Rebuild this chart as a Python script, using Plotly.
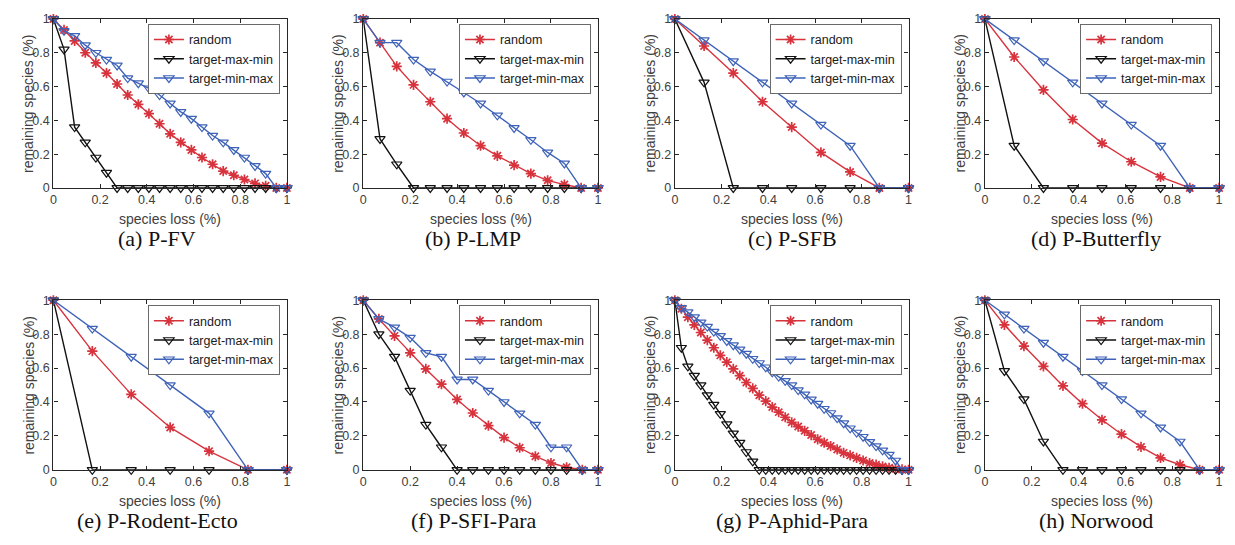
import plotly.graph_objects as go

# ---------------- data ----------------
panel_titles = ["(a) P-FV", "(b) P-LMP", "(c) P-SFB", "(d) P-Butterfly",
                "(e) P-Rodent-Ecto", "(f) P-SFI-Para", "(g) P-Aphid-Para", "(h) Norwood"]
series_names = ["random", "target-max-min", "target-min-max"]

a_random = [1.00, 0.935, 0.87, 0.80, 0.74, 0.68, 0.615, 0.55, 0.495, 0.44, 0.38, 0.32,
            0.27, 0.225, 0.18, 0.14, 0.10, 0.075, 0.05, 0.027, 0.013, 0.0, 0.0]
a_maxmin = [1.00, 0.82, 0.36, 0.27, 0.18, 0.09, 0.0, 0.0, 0.0, 0.0, 0.0, 0.0,
            0.0, 0.0, 0.0, 0.0, 0.0, 0.0, 0.0, 0.0, 0.0, 0.0, 0.0]
a_minmax = [1.00, 0.93, 0.90, 0.845, 0.80, 0.76, 0.725, 0.65, 0.62, 0.59, 0.55, 0.50,
            0.45, 0.41, 0.36, 0.31, 0.27, 0.225, 0.18, 0.13, 0.085, 0.0, 0.0]

b_random = [1.00, 0.86, 0.72, 0.61, 0.51, 0.41, 0.325, 0.25, 0.19, 0.135, 0.085, 0.045, 0.02, 0.0, 0.0]
b_maxmin = [1.00, 0.29, 0.14, 0.0, 0.0, 0.0, 0.0, 0.0, 0.0, 0.0, 0.0, 0.0, 0.0, 0.0, 0.0]
b_minmax = [1.00, 0.86, 0.86, 0.76, 0.69, 0.63, 0.565, 0.50, 0.43, 0.355, 0.285, 0.21, 0.145, 0.0, 0.0]

c_random = [1.00, 0.84, 0.68, 0.51, 0.36, 0.21, 0.095, 0.0, 0.0]
c_maxmin = [1.00, 0.625, 0.0, 0.0, 0.0, 0.0, 0.0, 0.0, 0.0]
c_minmax = [1.00, 0.875, 0.75, 0.625, 0.50, 0.375, 0.25, 0.0, 0.0]

d_random = [1.00, 0.775, 0.58, 0.405, 0.265, 0.155, 0.065, 0.0, 0.0]
d_maxmin = [1.00, 0.25, 0.0, 0.0, 0.0, 0.0, 0.0, 0.0, 0.0]
d_minmax = [1.00, 0.875, 0.75, 0.625, 0.50, 0.375, 0.25, 0.0, 0.0]

e_random = [1.00, 0.70, 0.445, 0.25, 0.11, 0.0, 0.0]
e_maxmin = [1.00, 0.0, 0.0, 0.0, 0.0, 0.0, 0.0]
e_minmax = [1.00, 0.833, 0.667, 0.50, 0.333, 0.0, 0.0]

f_random = [1.00, 0.89, 0.79, 0.69, 0.595, 0.505, 0.415, 0.335, 0.26, 0.19, 0.13, 0.08, 0.04, 0.015, 0.0, 0.0]
f_maxmin = [1.00, 0.80, 0.667, 0.467, 0.267, 0.133, 0.0, 0.0, 0.0, 0.0, 0.0, 0.0, 0.0, 0.0, 0.0, 0.0]
f_minmax = [1.00, 0.89, 0.84, 0.78, 0.69, 0.667, 0.533, 0.533, 0.467, 0.40, 0.333, 0.267, 0.133, 0.133, 0.0, 0.0]

g_random = [1.00, 0.95, 0.90, 0.855, 0.81, 0.765, 0.72, 0.675, 0.635, 0.595, 0.555, 0.515,
            0.48, 0.44, 0.405, 0.37, 0.34, 0.31, 0.28, 0.255, 0.23, 0.205, 0.18, 0.16,
            0.14, 0.12, 0.10, 0.085, 0.07, 0.055, 0.04, 0.03, 0.02, 0.012, 0.006, 0.002, 0.0]
g_maxmin = [1.00, 0.72, 0.61, 0.555, 0.50, 0.44, 0.385, 0.33, 0.27, 0.215, 0.16, 0.105,
            0.05, 0.0, 0.0, 0.0, 0.0, 0.0, 0.0, 0.0, 0.0, 0.0, 0.0, 0.0,
            0.0, 0.0, 0.0, 0.0, 0.0, 0.0, 0.0, 0.0, 0.0, 0.0, 0.0, 0.0, 0.0]
g_minmax = [1.00, 0.955, 0.93, 0.90, 0.87, 0.845, 0.815, 0.79, 0.76, 0.735, 0.71, 0.685,
            0.655, 0.63, 0.605, 0.575, 0.55, 0.525, 0.50, 0.47, 0.445, 0.415, 0.39, 0.36,
            0.335, 0.305, 0.275, 0.245, 0.22, 0.195, 0.165, 0.14, 0.115, 0.09, 0.055, 0.0, 0.0]

h_random = [1.00, 0.855, 0.73, 0.61, 0.495, 0.39, 0.295, 0.21, 0.135, 0.07, 0.03, 0.0, 0.0]
h_maxmin = [1.00, 0.583, 0.417, 0.167, 0.0, 0.0, 0.0, 0.0, 0.0, 0.0, 0.0, 0.0, 0.0]
h_minmax = [1.00, 0.917, 0.833, 0.75, 0.667, 0.583, 0.50, 0.417, 0.333, 0.25, 0.167, 0.0, 0.0]

panels = [
    (a_random, a_maxmin, a_minmax), (b_random, b_maxmin, b_minmax),
    (c_random, c_maxmin, c_minmax), (d_random, d_maxmin, d_minmax),
    (e_random, e_maxmin, e_minmax), (f_random, f_maxmin, f_minmax),
    (g_random, g_maxmin, g_minmax), (h_random, h_maxmin, h_minmax),
]
tick_vals = [0, 0.2, 0.4, 0.6, 0.8, 1]
tick_text = ["0", "0.2", "0.4", "0.6", "0.8", "1"]

# ---------------- style ----------------
W, H = 1235, 545
colors = ["#d8333d", "#111111", "#3f63b8"]
symbols = ["asterisk-open", "triangle-down-open", "triangle-down-open"]
axis_color = "#262626"
tick_font = dict(family="Liberation Sans, Arial, sans-serif", size=12.5, color="#404040")
label_font = dict(family="Liberation Sans, Arial, sans-serif", size=14, color="#404040")
cap_font = dict(family="Liberation Serif, Times New Roman, serif", size=22, color="#111111")

col_px = [(50.7, 285.5), (362.3, 598.3), (675.7, 910.7), (987.5, 1223.0)]
row_px = [(12.3, 185.7), (301.0, 475.0)]
caption_cx = [155, 473, 794, 1099]

fig = go.Figure()
annotations = []

for k, (rnd, mxm, mnm) in enumerate(panels):
    r, c = divmod(k, 4)
    idx = k + 1
    xs = "" if idx == 1 else str(idx)
    leg = "legend" if idx == 1 else f"legend{idx}"
    n = len(rnd) - 1
    xvals = [i / n for i in range(n + 1)]
    for s, ys in enumerate([rnd, mxm, mnm]):
        fig.add_trace(go.Scatter(
            x=xvals, y=ys, mode="lines+markers", name=series_names[s],
            xaxis="x" + xs, yaxis="y" + xs, legend=leg, cliponaxis=False,
            line=dict(color=colors[s], width=1.4),
            marker=dict(symbol=symbols[s], size=8.5 if s == 0 else 9, color=colors[s],
                        line=dict(color=colors[s], width=1.7 if s == 0 else 1.2)),
        ))
    x0, x1 = col_px[c]
    y0, y1 = row_px[r]
    dx = [x0 / W, x1 / W]
    dy = [1 - y1 / H, 1 - y0 / H]
    common = dict(range=[0, 1], tickvals=tick_vals, ticktext=tick_text, showgrid=False,
                  zeroline=False, showline=True, linecolor=axis_color, linewidth=1.4,
                  mirror="allticks", ticks="inside", ticklen=4, tickwidth=1,
                  tickcolor=axis_color, tickfont=tick_font, fixedrange=True)
    fig.layout["xaxis" + xs] = dict(domain=dx, anchor="y" + xs, **common)
    fig.layout["yaxis" + xs] = dict(domain=dy, anchor="x" + xs, **common)
    fig.layout[leg] = dict(
        x=(x1 - 7) / W, y=1 - (y0 + 5) / H, xanchor="right", yanchor="top",
        bgcolor="white", bordercolor="#6a6a6a", borderwidth=1,
        font=dict(family="Liberation Sans, Arial, sans-serif", size=12.5, color="#1a1a1a"),
        itemwidth=30, tracegroupgap=0,
    )
    # axis labels
    annotations.append(dict(text="species loss (%)", x=(x0 + x1) / 2 / W,
                            y=1 - (y1 + 32) / H, xref="paper", yref="paper",
                            showarrow=False, font=label_font, xanchor="center", yanchor="middle"))
    annotations.append(dict(text="remaining species (%)", x=(x0 - 25) / W,
                            y=1 - (y0 + y1) / 2 / H, xref="paper", yref="paper",
                            showarrow=False, font=label_font, textangle=-90,
                            xanchor="center", yanchor="middle"))
    annotations.append(dict(text=panel_titles[k], x=caption_cx[c] / W,
                            y=1 - (y1 + 52) / H, xref="paper", yref="paper",
                            showarrow=False, font=cap_font, xanchor="center", yanchor="middle"))

fig.update_layout(
    width=W, height=H, margin=dict(l=0, r=0, t=0, b=0),
    paper_bgcolor="white", plot_bgcolor="white",
    annotations=annotations, showlegend=True,
)
fig.write_html("out.html", config={"displayModeBar": False},
               post_script="document.body.style.margin='0px';document.body.style.overflow='hidden';")
